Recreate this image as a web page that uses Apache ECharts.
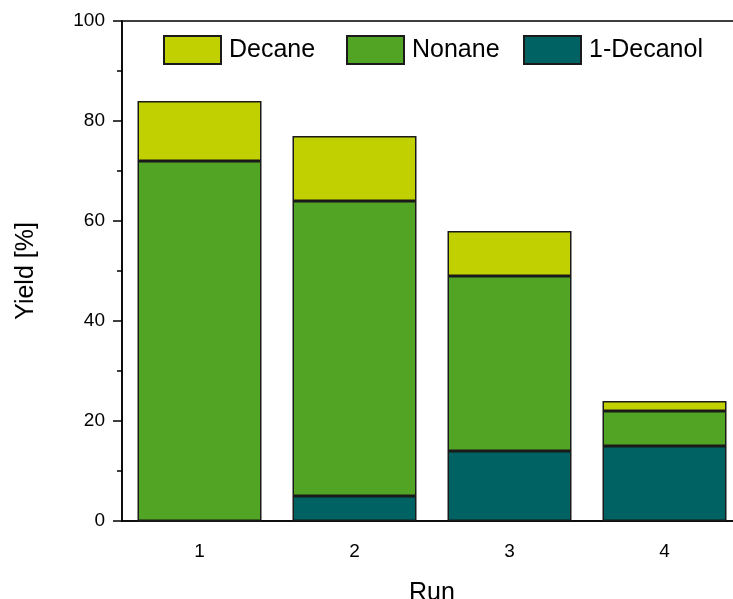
<!DOCTYPE html>
<html>
<head>
<meta charset="utf-8">
<script src="https://cdn.jsdelivr.net/npm/echarts@6/dist/echarts.min.js"></script>
<style>
html,body{margin:0;padding:0;background:#fff;}
#chart{width:733px;height:599px;}
</style>
</head>
<body>
<div id="chart"></div>
<script>
const runs = ['1', '2', '3', '4'];
const decanol = [0, 5, 14, 15];
const nonane = [72, 59, 35, 7];
const decane = [12, 13, 9, 2];
const seriesNames = ['Decane', 'Nonane', '1-Decanol'];
const colors = { 'Decane': '#C0D000', 'Nonane': '#52A424', '1-Decanol': '#006262' };

const FONT = '"Liberation Sans", Arial, sans-serif';
const chart = echarts.init(document.getElementById('chart'), null, { renderer: 'canvas' });

function legendAt(name, left) {
  return {
    data: [name], left: left, top: 35, orient: 'horizontal', padding: 0,
    itemWidth: 57, itemHeight: 28, icon: 'rect',
    textStyle: { fontFamily: FONT, fontSize: 25, color: '#000', padding: [0, 0, 0, 3] },
    selectedMode: false
  };
}

const barStyle = (name) => ({ color: colors[name], borderColor: '#1a1a1a', borderWidth: 1.5 });

chart.setOption({
  backgroundColor: '#fff',
  animation: false,
  legend: [legendAt('Decane', 163), legendAt('Nonane', 346), legendAt('1-Decanol', 523)],
  grid: {
    left: 122, top: 21, right: -9, bottom: 78,
    show: true, borderColor: '#000', borderWidth: 1.5, backgroundColor: 'transparent',
    outerBoundsMode: 'none'
  },
  xAxis: {
    type: 'category', data: runs,
    axisLine: { show: true, lineStyle: { color: '#000', width: 1.5 } },
    axisTick: { show: false },
    axisLabel: { fontFamily: FONT, fontSize: 19, color: '#000', margin: 21 },
    name: 'Run', nameLocation: 'middle', nameGap: 60,
    nameTextStyle: { fontFamily: FONT, fontSize: 25, color: '#000' }
  },
  yAxis: {
    type: 'value', min: 0, max: 100, interval: 20,
    axisLine: { show: true, lineStyle: { color: '#000', width: 1.5 } },
    axisTick: { show: true, inside: false, length: 9, lineStyle: { color: '#000', width: 1.5 } },
    minorTick: { show: true, splitNumber: 2, length: 5, lineStyle: { color: '#000', width: 1.5 } },
    splitLine: { show: false },
    minorSplitLine: { show: false },
    axisLabel: { fontFamily: FONT, fontSize: 19, color: '#000', margin: 17 },
    name: 'Yield [%]', nameLocation: 'middle', nameGap: 83,
    nameTextStyle: { fontFamily: FONT, fontSize: 25, color: '#000' }
  },
  series: [
    { name: '1-Decanol', type: 'bar', stack: 'y', data: decanol, barCategoryGap: '20%', itemStyle: barStyle('1-Decanol') },
    { name: 'Nonane', type: 'bar', stack: 'y', data: nonane, barCategoryGap: '20%', itemStyle: barStyle('Nonane') },
    { name: 'Decane', type: 'bar', stack: 'y', data: decane, barCategoryGap: '20%', itemStyle: barStyle('Decane') }
  ]
});
</script>
</body>
</html>
